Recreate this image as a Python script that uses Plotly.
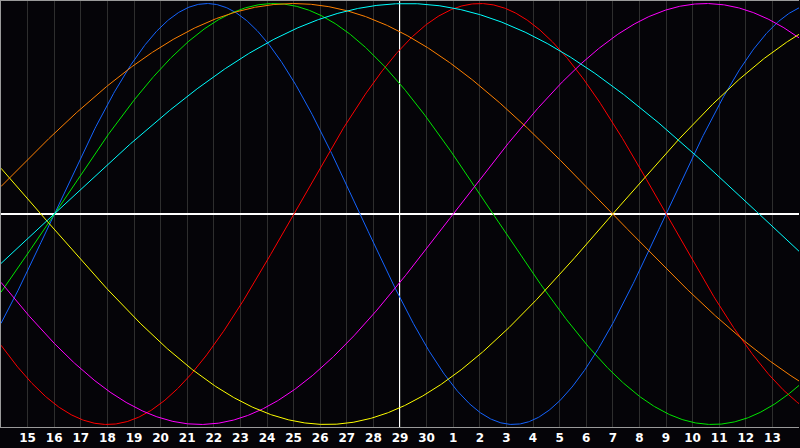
import numpy as np
import plotly.graph_objects as go

# Day labels along the bottom axis (positions are consecutive days 15..43)
day_labels = [15, 16, 17, 18, 19, 20, 21, 22, 23, 24, 25, 26, 27, 28, 29, 30,
              1, 2, 3, 4, 5, 6, 7, 8, 9, 10, 11, 12, 13]
day_positions = list(range(15, 44))
today_position = 29
x_start, x_end = 14, 44

# Cycles: lengths (days) and day of an upward zero crossing
cycle_lengths = [23, 28, 33, 38, 43, 48, 53]
cycle_up_crossing = [16, 25, 16, 31, 37, 13, 16]
cycle_colors = ["#1464ff", "#ff0000", "#00e600", "#ff00ff", "#ffff00", "#ff8000", "#00ffff"]

fig = go.Figure()
xs = np.linspace(x_start, x_end, 901)
for length, up, color in zip(cycle_lengths, cycle_up_crossing, cycle_colors):
    ys = np.sin(2 * np.pi * (xs - up) / length)
    fig.add_trace(go.Scatter(x=xs, y=ys, mode="lines",
                             line=dict(color=color, width=1),
                             hoverinfo="skip", showlegend=False))

a = 1.012
fig.add_shape(type="line", xref="x", yref="paper", x0=today_position, x1=today_position,
              y0=0, y1=1, line=dict(color="white", width=2), layer="below")

fig.update_layout(
    width=800, height=448,
    margin=dict(l=1, r=1, t=1, b=21),
    paper_bgcolor="#050408",
    plot_bgcolor="#050408",
    showlegend=False,
    xaxis=dict(range=[x_start, x_end], tickmode="array", tickvals=day_positions,
               ticktext=[str(v) for v in day_labels], showgrid=True,
               gridcolor="#2e2e2e", gridwidth=1, zeroline=False,
               showline=True, linecolor="#9a9a9a", linewidth=1, mirror=True,
               ticks="", tickfont=dict(family="DejaVu Sans", size=12, color="white", weight="bold")),
    yaxis=dict(range=[-a, a], showgrid=False, showticklabels=False, ticks="",
               zeroline=True, zerolinecolor="white", zerolinewidth=2,
               showline=True, linecolor="#9a9a9a", linewidth=1, mirror=False),
)

fig.write_html("out.html", config={"displayModeBar": False},
               post_script="document.body.style.margin='0';document.body.style.background='#050408';")
